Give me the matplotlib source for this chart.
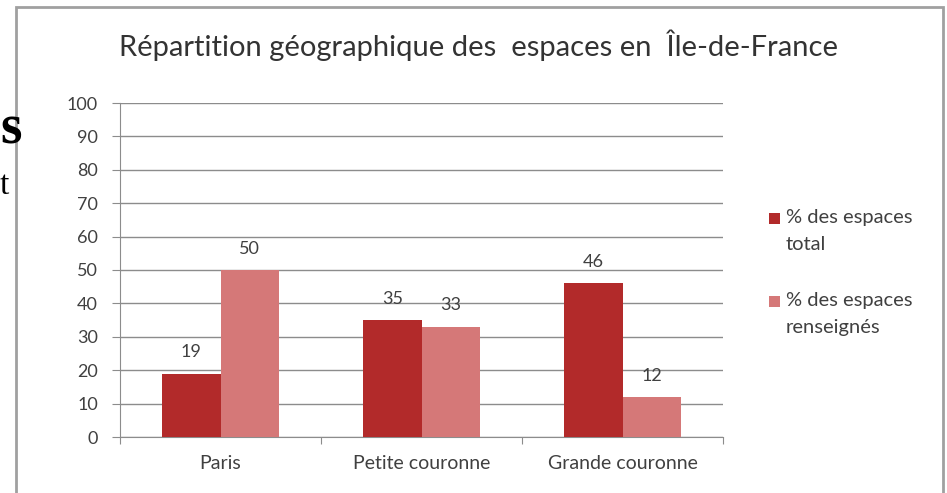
import matplotlib
matplotlib.use("Agg")
import matplotlib.pyplot as plt
from matplotlib.patches import Rectangle
import numpy as np

categories = ["Paris", "Petite couronne", "Grande couronne"]
total = [19, 35, 46]
renseignes = [50, 33, 12]
series_names = ["% des espaces\ntotal", "% des espaces\nrenseignés"]
yticks = list(range(0, 101, 10))
title = "Répartition géographique des  espaces en  Île-de-France"

W, H = 947, 493
fig = plt.figure(figsize=(W/100, H/100), dpi=100)
fig.patch.set_facecolor("white")
FONT = ["Lato", "DejaVu Sans"]
TXT = "#404040"

# chart frame
fig.add_artist(Rectangle((16/W, -0.02), (943-16)/W, (H-7)/H + 0.02, transform=fig.transFigure,
                         fill=False, edgecolor="#a0a0a0", linewidth=2))
# leftover document glyphs
fig.text(0/W, 1-130/H, "s", fontsize=40, fontweight="bold", family="Liberation Serif",
         va="center", ha="left", color="black")
fig.text(0/W, 1-186/H, "t", fontsize=24, family="Liberation Serif",
         va="center", ha="left", color="black")

ax = fig.add_axes([120/W, (H-437)/H, 603/W, 334/H])
x = np.arange(len(categories))
bw = 0.29
colors = ["#b22a2a", "#d57878"]
b1 = ax.bar(x - bw/2, total, bw, color=colors[0], zorder=3)
b2 = ax.bar(x + bw/2, renseignes, bw, color=colors[1], zorder=3)

for bars, vals in ((b1, total), (b2, renseignes)):
    for r, v in zip(bars, vals):
        ax.text(r.get_x() + r.get_width()/2, v + 4, str(v), ha="center", va="bottom",
                fontsize=13, color=TXT, family=FONT, zorder=4)

ax.set_xlim(-0.5, 2.5)
ax.set_ylim(0, 100)
ax.set_yticks(yticks)
ax.set_yticklabels([str(t) for t in yticks], fontsize=13, color=TXT, family=FONT)
ax.yaxis.grid(True, color="#8c8c8c", linewidth=1, zorder=0)
ax.set_axisbelow(True)
ax.set_xticks([-0.5, 0.5, 1.5, 2.5])
ax.set_xticklabels([])
ax.set_xticks(x, minor=True)
ax.set_xticklabels(categories, minor=True, fontsize=14, color=TXT, family=FONT)
ax.tick_params(axis="x", which="minor", length=0, pad=13)
ax.tick_params(axis="x", which="major", length=5, color="#8c8c8c", direction="out")
ax.tick_params(axis="y", length=6, color="#8c8c8c", direction="out", pad=10)
for s in ("top", "right"):
    ax.spines[s].set_visible(False)
for s in ("left", "bottom"):
    ax.spines[s].set_color("#8c8c8c")

fig.text(478/W, 1-45/H, title, ha="center", va="center", fontsize=21, color="#333333", family=FONT)

# legend: marker aligned with first line of each two-line label
for i, (name, c) in enumerate(zip(series_names, colors)):
    y0 = 218 + i * 83
    fig.add_artist(Rectangle((769/W, 1-(y0+6)/H), 11/W, 11/H, transform=fig.transFigure,
                             facecolor=c, edgecolor="none"))
    fig.text(786/W, 1-(y0-9)/H, name, ha="left", va="top", fontsize=14.5, color=TXT,
             family=FONT, linespacing=1.7)

fig.savefig("out.png", dpi=100, facecolor="white")
